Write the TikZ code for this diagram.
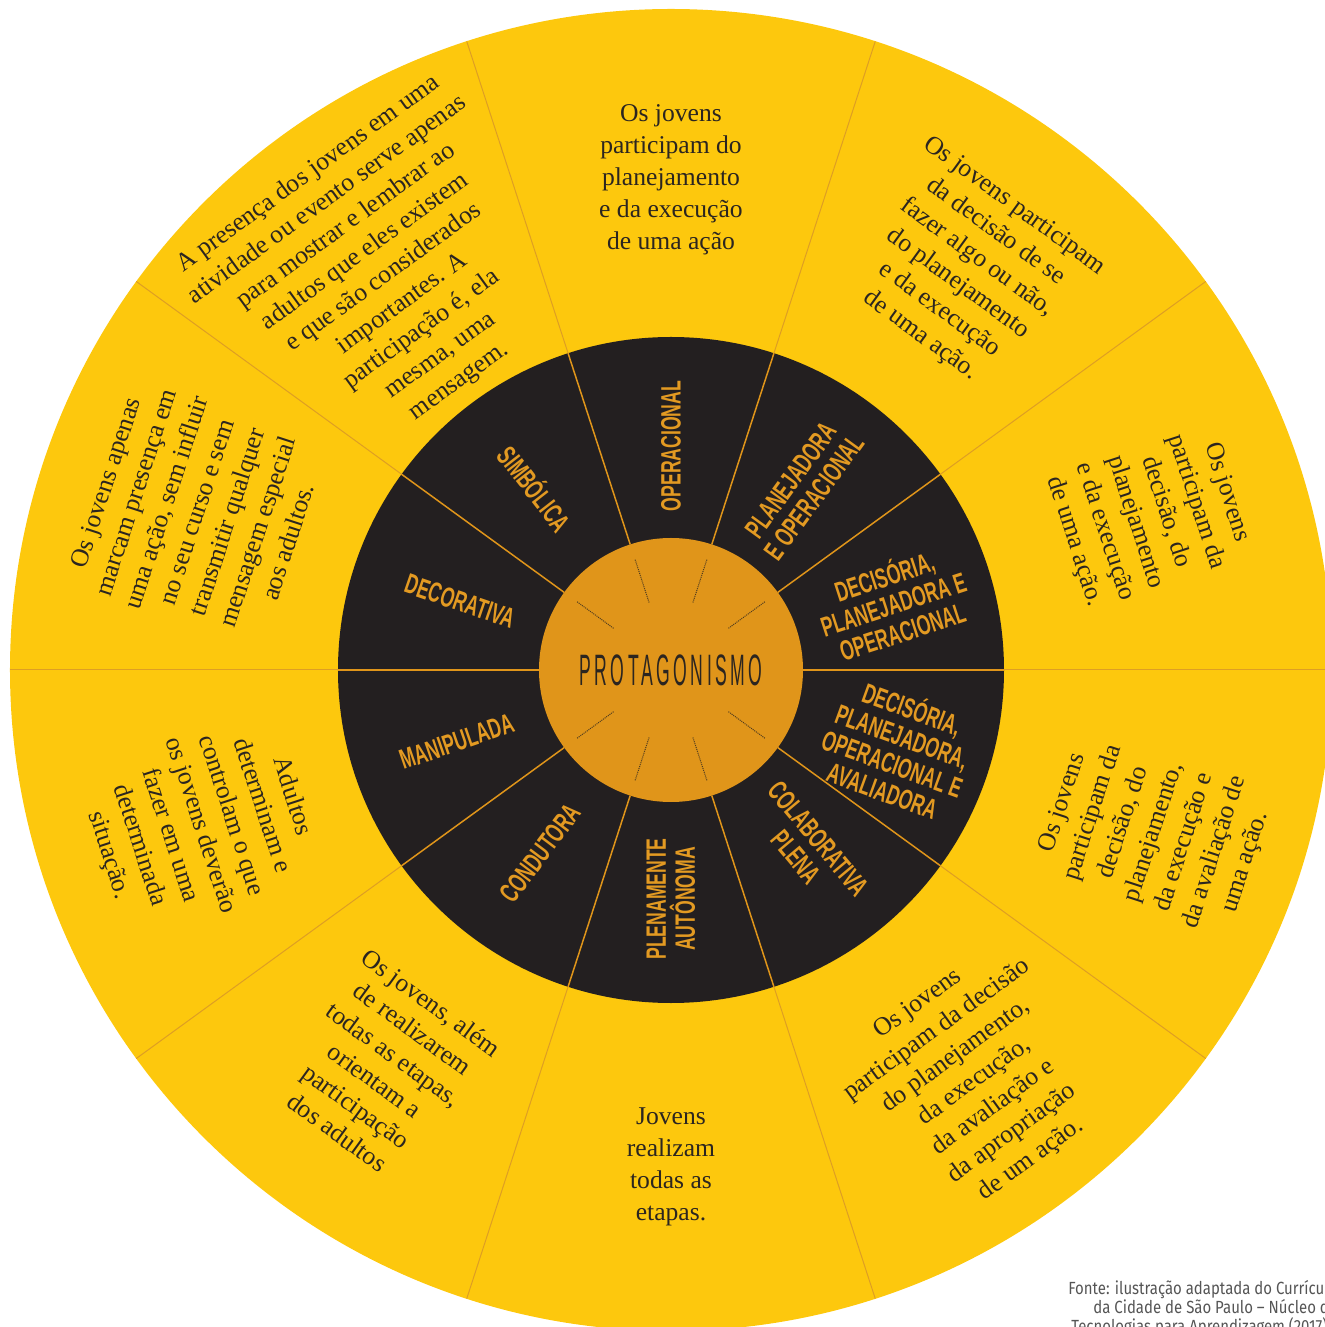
\documentclass[tikz,border=0pt]{standalone}
\usepackage{fontspec}
\setmainfont{Liberation Serif}
\newfontfamily\lblfont{Liberation Sans}[FakeStretch=0.63]
\newfontfamily\ttlfont{Liberation Sans}[FakeStretch=0.40,LetterSpace=8]
\newfontfamily\srcfont{Fira Sans}[FakeStretch=0.85]
\definecolor{yellowc}{HTML}{FDC80D}
\definecolor{darkring}{HTML}{231F20}
\definecolor{centerc}{HTML}{E0951A}
\definecolor{lblorange}{HTML}{E39A22}
\definecolor{txtdark}{HTML}{2B2520}
\definecolor{ysep}{HTML}{DE9E24}
\definecolor{srcgray}{HTML}{555555}
\tikzset{
  outertxt/.style={align=center, text=txtdark, inner sep=0pt, font=\fontsize{12.8}{16}\selectfont},
  ringlbl/.style={align=center, text=lblorange, inner sep=0pt, font=\lblfont\bfseries\fontsize{14}{14.5}\selectfont},
  ringsep/.style={draw=centerc, line width=0.75pt},
  yellowsep/.style={draw=ysep, line width=0.5pt},
  tickline/.style={draw=txtdark!80!centerc, line width=0.5pt, dash pattern=on 0.5pt off 0.5pt},
  srctxt/.style={anchor=base west, inner sep=0pt, text=srcgray, font=\srcfont\fontsize{8.8}{10}\selectfont}
}
\begin{document}
\begin{tikzpicture}[x=0.5pt,y=0.5pt]
\useasboundingbox (-671,-657) rectangle (654,670);
\clip (-671,-657) rectangle (654,670);
% discs
\fill[yellowc] (0,0) circle (661);
\fill[darkring] (0,0) circle (333);
\fill[centerc] (0,0) circle (132);
% separators
\foreach \a in {0,36,...,324} \draw[yellowsep] (\a:333) -- (\a:661);
\foreach \a in {0,36,...,324} \draw[ringsep] (\a:132) -- (\a:333);
% decorative ticks in the centre
\foreach \a in {36,72,108,144,216,252,288,324} \draw[tickline] (\a:71) -- (\a:116);
% centre title
\node[inner sep=0pt, text=txtdark, font=\ttlfont\fontsize{22}{22}\selectfont] (title) at (0,0) {PROTAGONISMO};
% ring labels
\node[ringlbl, rotate=90]  (l1)  at (90:224)   {OPERACIONAL};
\node[ringlbl, rotate=54]  (l2)  at (54:224)   {PLANEJADORA\\E OPERACIONAL};
\node[ringlbl, rotate=18]  (l3)  at (17:232)   {DECISÓRIA,\\PLANEJADORA E\\OPERACIONAL};
\node[ringlbl, rotate=-20] (l4)  at (-19:240) {DECISÓRIA,\\PLANEJADORA,\\OPERACIONAL E\\AVALIADORA};
\node[ringlbl, rotate=-50] (l5)  at (-52.5:224)  {COLABORATIVA\\PLENA};
\node[ringlbl, rotate=90]  (l6)  at (-90:229)  {PLENAMENTE\\AUTÔNOMA};
\node[ringlbl, rotate=53]  (l7)  at (-125.5:225) {CONDUTORA};
\node[ringlbl, rotate=19]  (l8)  at (-161.5:226) {MANIPULADA};
\node[ringlbl, rotate=-19] (l9)  at (162:222)  {DECORATIVA};
\node[ringlbl, rotate=-52] (l10) at (126.5:227) {SIMBÓLICA};
% outer texts
\node[outertxt] (t1) at (90:490) {Os jovens\\participam do\\planejamento\\e da execução\\de uma ação};
\node[outertxt, rotate=-36] (t2) at (53.4:497) {Os jovens participam\\da decisão de se\\fazer algo ou não,\\do planejamento\\e da execução\\de uma ação.};
\node[outertxt, rotate=-72] (t3) at (17.7:503) {Os jovens\\participam da\\decisão, do\\planejamento\\e da execução\\de uma ação.};
\node[outertxt, rotate=72] (t4) at (-18.6:510) {Os jovens\\participam da\\decisão, do\\planejamento,\\da execução e\\da avaliação de\\uma ação.};
\node[outertxt, rotate=36] (t5) at (-53.6:512) {Os jovens\\participam da decisão\\do planejamento,\\da execução,\\da avaliação e\\da apropriação\\de um ação.};
\node[outertxt] (t6) at (-90:497) {Jovens\\realizam\\todas as\\etapas.};
\node[outertxt, rotate=-36] (t7) at (-125.8:490) {Os jovens, além\\de realizarem\\todas as etapas,\\orientam a\\participação\\dos adultos};
\node[outertxt, rotate=-72] (t8) at (-161.7:496) {Adultos\\determinam e\\controlam o que\\os jovens deverão\\fazer em uma\\determinada\\situação.};
\node[outertxt, rotate=72] (t9) at (161.6:500) {Os jovens apenas\\marcam presença em\\uma ação, sem influir\\no seu curso e sem\\transmitir qualquer\\mensagem especial\\aos adultos.};
\node[outertxt, rotate=36] (t10) at (126.2:486) {A presença dos jovens em uma\\atividade ou evento serve apenas\\para mostrar e lembrar ao\\adultos que eles existem\\e que são considerados\\importantes. A\\participação é, ela\\mesma, uma\\mensagem.};
% source note
\node[srctxt] (s1) at (397,-624) {Fonte: ilustração adaptada do Currículo};
\node[srctxt] (s2) at (422,-643) {da Cidade de São Paulo – Núcleo de};
\node[srctxt] (s3) at (400,-662) {Tecnologias para Aprendizagem (2017).};
\end{tikzpicture}
\end{document}
